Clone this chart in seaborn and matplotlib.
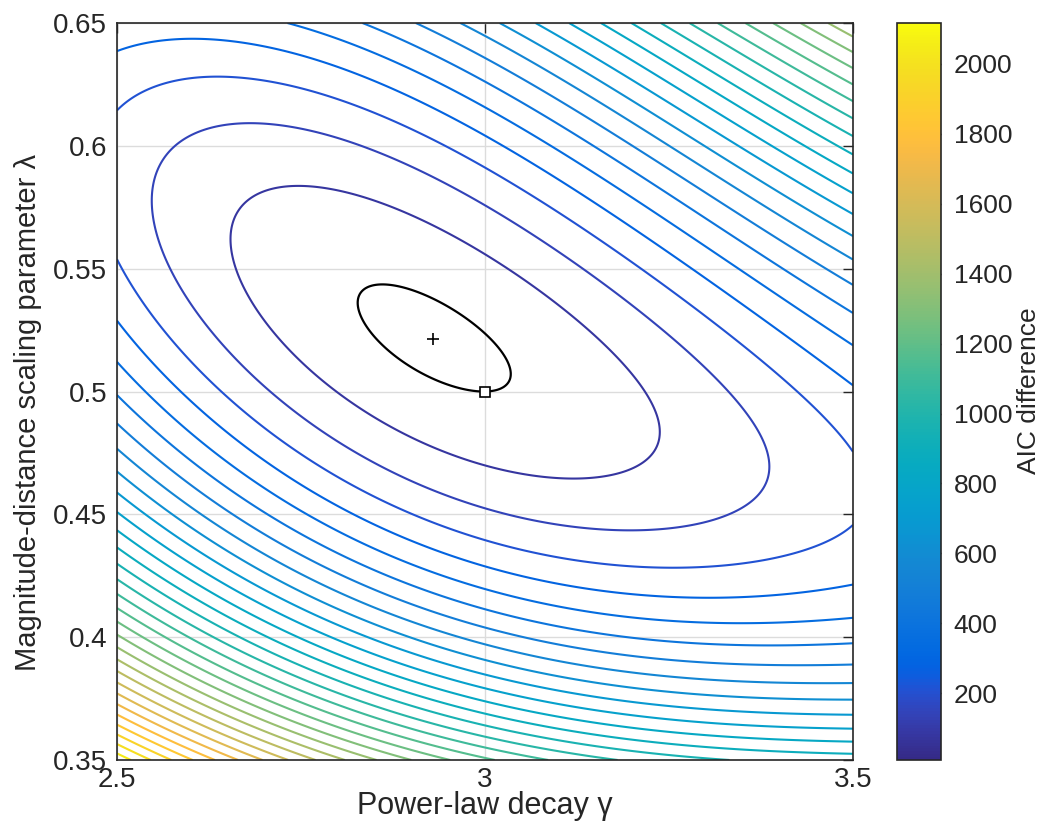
import numpy as np
import matplotlib
matplotlib.use("Agg")
import matplotlib.pyplot as plt
import seaborn as sns
from matplotlib.colors import LinearSegmentedColormap, Normalize
from matplotlib.cm import ScalarMappable

# ---------------- data ----------------
gamma_best, lambda_best = 2.929, 0.5214      # "+" marker
gamma_ref, lambda_ref = 3.0, 0.5             # square marker
z_min, z_max = 9.0, 2117.0                   # colour range (AIC difference)
n_levels = 30
black_level_index = 0.13                     # black contour, in level steps

# points on the contour lines (gamma, lambda, level index)
top_gamma = [2.732, 2.826, 2.898, 2.959, 3.014, 3.061, 3.109, 3.154, 3.197,
             3.238, 3.279, 3.317, 3.356, 3.391, 3.428, 3.465]
top_level = [5, 6, 7, 8, 9, 10, 11, 12, 13, 14, 15, 16, 17, 18, 19, 20]

left_lambda = [0.6138, 0.6410, 0.5564, 0.5271, 0.5137, 0.4986, 0.4864, 0.4762,
               0.4673, 0.4587, 0.4506, 0.4437, 0.4367, 0.4306, 0.4245, 0.4184,
               0.4131, 0.4070, 0.4017, 0.3960, 0.3916, 0.3867, 0.3818, 0.3773,
               0.3724, 0.3675, 0.3635, 0.3594, 0.3549, 0.3513]
left_level = [3, 4, 3, 4, 5, 6, 7, 8, 9, 10, 11, 12, 13, 14, 15, 16, 17, 18,
              19, 20, 21, 22, 23, 24, 25, 26, 27, 28, 29, 30]

bottom_gamma = [2.518, 2.549, 2.576, 2.609, 2.637, 2.671, 2.705, 2.742, 2.779,
                2.814, 2.853, 2.898, 2.943, 2.997, 3.068, 3.156, 3.283]
bottom_level = [30, 29, 28, 27, 26, 25, 24, 23, 22, 21, 20, 19, 18, 17, 16, 15, 14]

right_lambda = [0.3529, 0.3574, 0.3631, 0.3684, 0.3745, 0.3814, 0.3887, 0.3981,
                0.4103, 0.4196, 0.4428, 0.4721, 0.5027, 0.5141, 0.5291, 0.5413,
                0.5527, 0.5629, 0.5731, 0.5812, 0.5894, 0.5971, 0.6044, 0.6117,
                0.6187, 0.6256, 0.6317, 0.6382, 0.6443]
right_level = [13, 12, 11, 10, 9, 8, 7, 6, 5, 4, 3, 3, 4, 5, 6, 7, 8, 9, 10,
               11, 12, 13, 14, 15, 16, 17, 18, 19, 20]

inner_gamma = [2.654, 3.238, 2.817, 3.129, 2.548, 2.667, 3.390,
               2.821, 3.038, 2.851, 2.993]
inner_lambda = [0.5535, 0.4803, 0.5845, 0.4681, 0.5739, 0.6073, 0.4640,
                0.5352, 0.5108, 0.5434, 0.5035]
inner_level = [1, 1, 1, 1, 2, 2, 2, 0.13, 0.13, 0.13, 0.13]

colorbar_ticks = [200, 400, 600, 800, 1000, 1200, 1400, 1600, 1800, 2000]
x_ticks = [2.5, 3.0, 3.5]
x_tick_labels = ["2.5", "3", "3.5"]
y_ticks = [0.35, 0.40, 0.45, 0.50, 0.55, 0.60, 0.65]
y_tick_labels = ["0.35", "0.4", "0.45", "0.5", "0.55", "0.6", "0.65"]

# ---------------- parula colour map ----------------
parula_rgb = [
    [0.2081, 0.1663, 0.5292], [0.2116, 0.1898, 0.5777], [0.2123, 0.2138, 0.6270],
    [0.2081, 0.2386, 0.6771], [0.1959, 0.2645, 0.7279], [0.1707, 0.2919, 0.7792],
    [0.1253, 0.3242, 0.8303], [0.0591, 0.3598, 0.8683], [0.0117, 0.3875, 0.8820],
    [0.0060, 0.4086, 0.8828], [0.0165, 0.4266, 0.8786], [0.0329, 0.4430, 0.8720],
    [0.0498, 0.4586, 0.8641], [0.0629, 0.4737, 0.8554], [0.0723, 0.4887, 0.8467],
    [0.0779, 0.5040, 0.8384], [0.0793, 0.5200, 0.8312], [0.0749, 0.5375, 0.8263],
    [0.0641, 0.5570, 0.8240], [0.0488, 0.5772, 0.8228], [0.0343, 0.5966, 0.8199],
    [0.0265, 0.6137, 0.8135], [0.0239, 0.6287, 0.8038], [0.0231, 0.6418, 0.7913],
    [0.0228, 0.6535, 0.7768], [0.0267, 0.6642, 0.7607], [0.0384, 0.6743, 0.7436],
    [0.0590, 0.6838, 0.7254], [0.0843, 0.6928, 0.7062], [0.1133, 0.7015, 0.6859],
    [0.1453, 0.7098, 0.6646], [0.1801, 0.7177, 0.6424], [0.2178, 0.7250, 0.6193],
    [0.2586, 0.7317, 0.5954], [0.3022, 0.7376, 0.5712], [0.3482, 0.7424, 0.5473],
    [0.3953, 0.7459, 0.5244], [0.4420, 0.7481, 0.5033], [0.4871, 0.7491, 0.4840],
    [0.5300, 0.7491, 0.4661], [0.5709, 0.7485, 0.4494], [0.6099, 0.7473, 0.4337],
    [0.6473, 0.7456, 0.4188], [0.6834, 0.7435, 0.4044], [0.7184, 0.7411, 0.3905],
    [0.7525, 0.7384, 0.3768], [0.7858, 0.7356, 0.3633], [0.8185, 0.7327, 0.3498],
    [0.8507, 0.7299, 0.3360], [0.8824, 0.7274, 0.3217], [0.9139, 0.7258, 0.3063],
    [0.9450, 0.7261, 0.2886], [0.9739, 0.7314, 0.2666], [0.9938, 0.7455, 0.2403],
    [0.9990, 0.7653, 0.2164], [0.9955, 0.7861, 0.1967], [0.9880, 0.8066, 0.1794],
    [0.9789, 0.8271, 0.1633], [0.9697, 0.8481, 0.1475], [0.9626, 0.8705, 0.1309],
    [0.9589, 0.8949, 0.1132], [0.9598, 0.9218, 0.0948], [0.9661, 0.9514, 0.0755],
    [0.9763, 0.9831, 0.0538]]
parula = LinearSegmentedColormap.from_list("parula", parula_rgb, N=256)

# ---------------- surface through the traced contour points ----------------
pg = np.concatenate([top_gamma, np.full(len(left_lambda), 2.5), bottom_gamma,
                     np.full(len(right_lambda), 3.5), inner_gamma, [gamma_best]])
pl = np.concatenate([np.full(len(top_gamma), 0.65), left_lambda,
                     np.full(len(bottom_gamma), 0.35), right_lambda, inner_lambda,
                     [lambda_best]])
pk = np.concatenate([top_level, left_level, bottom_level, right_level,
                     inner_level, [0.0]]).astype(float)
is_inner = np.concatenate([np.zeros(len(top_gamma) + len(left_lambda)
                                    + len(bottom_gamma) + len(right_lambda)),
                           np.ones(len(inner_gamma) + 1)])


def features(g, l):
    dx = (g - gamma_best) / 0.5
    dy = (l - lambda_best) / 0.15
    return np.stack([dx**2, dx*dy, dy**2, dx**3, dx**2*dy, dx*dy**2, dy**3,
                     dx**4, dx**3*dy, dx**2*dy**2, dx*dy**3, dy**4], axis=-1)


weights = (1.0 + 3.0 * is_inner) / np.sqrt(pk + 0.5)
A = features(pg, pl) * weights[:, None]
coef, *_ = np.linalg.lstsq(A, pk * weights, rcond=None)

step = (z_max - z_min) / (n_levels + 1)
G, L = np.meshgrid(np.linspace(2.5, 3.5, 501), np.linspace(0.35, 0.65, 501))
Z = z_min + step * (features(G, L) @ coef)

# ---------------- drawing ----------------
sns.set_style("white")
plt.rcParams["font.family"] = ["Liberation Sans", "DejaVu Sans"]
text_color = "#262626"

fig = plt.figure(figsize=(10.43, 8.38), dpi=100)
ax = fig.add_axes([117 / 1043, 1 - 760 / 838, 736 / 1043, 737 / 838])
cax = fig.add_axes([897 / 1043, 1 - 760 / 838, 44 / 1043, 737 / 838])

norm = Normalize(vmin=z_min, vmax=z_max)
levels = z_min + step * np.arange(1, n_levels + 1)
ax.contour(G, L, Z, levels=levels, cmap=parula, norm=norm, linewidths=1.5)
ax.contour(G, L, Z, levels=[z_min + step * black_level_index], colors="black",
           linewidths=1.6)

ax.plot([gamma_best], [lambda_best], marker="+", color="black", ms=9, mew=1.2)
ax.plot([gamma_ref], [lambda_ref], marker="s", mfc="white", mec="black",
        ms=6.5, mew=1.2)

ax.set_xlim(2.5, 3.5)
ax.set_ylim(0.35, 0.65)
ax.set_xticks(x_ticks)
ax.set_xticklabels(x_tick_labels)
ax.set_yticks(y_ticks)
ax.set_yticklabels(y_tick_labels)
ax.grid(True, color="#dcdcdc", lw=1.0)
ax.set_axisbelow(True)
ax.tick_params(direction="in", length=7, width=1.0, colors=text_color,
               labelsize=20, top=True, right=True, pad=7)
ax.tick_params(axis="x", pad=5)
for s in ax.spines.values():
    s.set_color(text_color)
    s.set_linewidth(1.2)
ax.set_xlabel("Power-law decay γ", fontsize=22, color=text_color)
ax.xaxis.set_label_coords(0.5, -0.042)
ax.set_ylabel("Magnitude-distance scaling parameter λ", fontsize=21,
              color=text_color)
ax.yaxis.set_label_coords(-0.102, 0.471)

sm = ScalarMappable(norm=norm, cmap=parula)
cb = fig.colorbar(sm, cax=cax)
cb.set_ticks(colorbar_ticks)
cb.set_ticklabels([str(t) for t in colorbar_ticks])
cax.tick_params(direction="in", length=6, width=1.0, colors=text_color,
                labelsize=19, pad=9)
cb.outline.set_edgecolor(text_color)
cb.outline.set_linewidth(1.2)
fig.text(1029 / 1043, 1 - 391 / 838, "AIC difference", rotation=90,
         ha="center", va="center", fontsize=19, color=text_color)

fig.savefig("out.png", dpi=100, facecolor="white")
